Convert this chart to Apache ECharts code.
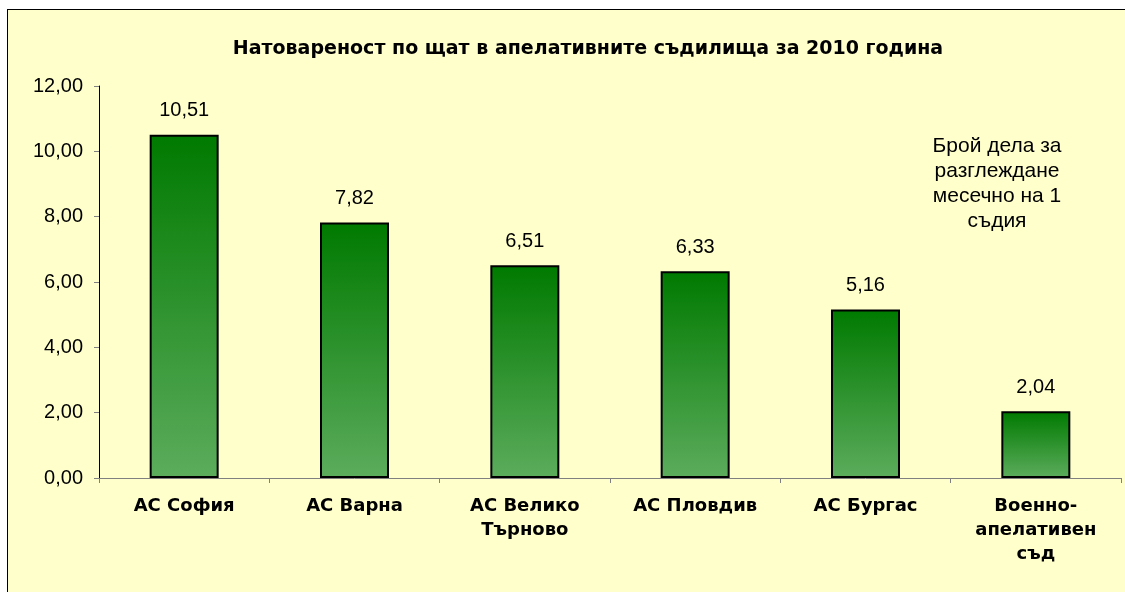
<!DOCTYPE html>
<html>
<head>
<meta charset="utf-8">
<script src="https://cdn.jsdelivr.net/npm/echarts@6/dist/echarts.min.js"></script>
<style>
  html, body { margin: 0; padding: 0; background: #fff; }
  #frame {
    position: absolute; left: 7px; top: 9px; width: 1130px; height: 600px;
    background: #FFFFCC; border: 1px solid #000; box-sizing: border-box;
  }
  #chart { position: absolute; left: 0; top: 0; width: 1125px; height: 592px; }
</style>
</head>
<body>
<div id="frame"></div>
<div id="chart"></div>
<script>
// данни
const categories = ['АС София', 'АС Варна', 'АС Велико\nТърново', 'АС Пловдив', 'АС Бургас', 'Военно-\nапелативен\nсъд']
const values = [10.51, 7.82, 6.51, 6.33, 5.16, 2.04]
const titleText = 'Натовареност по щат в апелативните съдилища за 2010 година'
const noteText = 'Брой дела за\nразглеждане\nмесечно на 1\nсъдия'

const fmt = v => v.toFixed(2).replace('.', ',')
const font = '"Liberation Sans", Arial, sans-serif'
const boldFont = '"DejaVu Sans", "Liberation Sans", sans-serif' // по-широк удебелен шрифт

const chart = echarts.init(document.getElementById('chart'))
const option = {
  animation: false,
  textStyle: { fontFamily: font },
  title: {
    text: titleText,
    left: 583,
    textAlign: 'center',
    top: 35,
    textStyle: { fontSize: 19, fontWeight: 'bold', color: '#000', fontFamily: boldFont }
  },
  graphic: [{
    type: 'text',
    x: 997,
    y: 134,
    style: {
      text: noteText,
      align: 'center',
      textAlign: 'center',
      fontSize: 21,
      lineHeight: 25,
      fill: '#000',
      fontFamily: font
    }
  }],
  grid: { left: 99, right: 4, top: 86, bottom: 114, containLabel: false },
  xAxis: {
    type: 'category',
    data: categories,
    axisLine: { lineStyle: { color: '#808080', width: 1 } },
    axisTick: { show: true, length: 5, lineStyle: { color: '#808080' } },
    axisLabel: {
      color: '#000', fontSize: 18, fontWeight: 'bold', lineHeight: 24,
      margin: 16, interval: 0, fontFamily: boldFont
    }
  },
  yAxis: {
    type: 'value',
    min: 0, max: 12, interval: 2,
    splitLine: { show: false },
    axisLine: { show: true, lineStyle: { color: '#000', width: 1 } },
    axisTick: { show: true, length: 5, lineStyle: { color: '#808080' } },
    axisLabel: { color: '#000', fontSize: 20, margin: 16, formatter: v => fmt(v) }
  },
  series: [{
    type: 'bar',
    data: values,
    barWidth: '40.5%',
    itemStyle: {
      borderColor: '#000',
      borderWidth: 2,
      color: new echarts.graphic.LinearGradient(0, 0, 0, 1, [
        { offset: 0, color: '#007A00' },
        { offset: 1, color: '#5CAC5C' }
      ])
    },
    label: {
      show: true,
      position: 'top',
      distance: 14,
      color: '#000',
      fontSize: 20,
      formatter: p => fmt(p.value)
    }
  }]
}
chart.setOption(option)
</script>
</body>
</html>
